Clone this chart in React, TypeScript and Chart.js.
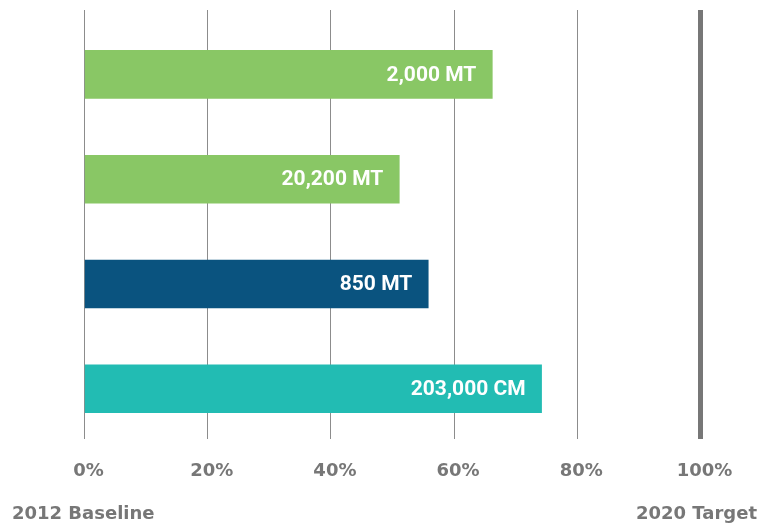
import React, { useEffect, useRef } from "react";
import { Chart, registerables } from "chart.js";

Chart.register(...registerables);

const categories = ["Row 1", "Row 2", "Row 3", "Row 4"];
const percentValues = [66.2, 51.1, 55.8, 74.2];
const barLabels = ["2,000 MT", "20,200 MT", "850 MT", "203,000 CM"];
const barColors = ["#89C765", "#89C765", "#0A537F", "#22BCB3"];
const tickValues = [0, 20, 40, 60, 80, 100];
const startLabel = "2012 Baseline";
const endLabel = "2020 Target";

const barLabelPlugin = {
  id: "barLabelPlugin",
  afterDatasetsDraw(chart: any) {
    const ctx = chart.ctx;
    const meta = chart.getDatasetMeta(0);
    ctx.save();
    ctx.font = "bold 21px Roboto, 'Liberation Sans', sans-serif";
    ctx.fillStyle = "#ffffff";
    ctx.textAlign = "right";
    ctx.textBaseline = "middle";
    meta.data.forEach((el: any, i: number) => {
      ctx.fillText(barLabels[i], el.x - 16, el.y + 1);
    });
    ctx.restore();
  },
};

const endLabelsPlugin = {
  id: "endLabelsPlugin",
  afterDraw(chart: any) {
    const ctx = chart.ctx;
    ctx.save();
    ctx.font = "bold 18px 'DejaVu Sans', sans-serif";
    ctx.fillStyle = "#777777";
    ctx.textBaseline = "alphabetic";
    ctx.textAlign = "left";
    ctx.fillText(startLabel, 12, 519);
    ctx.textAlign = "right";
    ctx.fillText(endLabel, 757, 519);
    ctx.restore();
  },
};

export default function App() {
  const canvasRef = useRef<HTMLCanvasElement | null>(null);

  useEffect(() => {
    if (!canvasRef.current) return;
    const chart = new Chart(canvasRef.current, {
      type: "bar",
      data: {
        labels: categories,
        datasets: [
          {
            data: percentValues.map((v, i) => ({ x: v, y: i })),
            backgroundColor: barColors,
            borderWidth: 0,
            barThickness: 48,
          },
        ],
      },
      options: {
        indexAxis: "y",
        animation: false,
        responsive: true,
        maintainAspectRatio: false,
        layout: {
          padding: { left: 84.5, right: 57.5, top: 10, bottom: 21 },
        },
        plugins: {
          legend: { display: false },
          tooltip: { enabled: false },
        },
        scales: {
          x: {
            type: "linear",
            min: 0,
            max: 100,
            afterBuildTicks: (axis: any) => {
              axis.ticks = tickValues.map((v) => ({ value: v }));
            },
            border: { display: false },
            grid: {
              drawTicks: false,
              color: (c: any) => (c.tick && c.tick.value === 100 ? "#777777" : "#8c8c8c"),
              lineWidth: (c: any) => (c.tick && c.tick.value === 100 ? 5 : 1),
            },
            ticks: {
              padding: 21,
              labelOffset: 4,
              color: "#777777",
              font: { family: "'DejaVu Sans', sans-serif", size: 18, weight: "bold" },
              callback: (v: any) => v + "%",
            },
          },
          y: {
            type: "linear",
            display: false,
            reverse: true,
            offset: false,
            min: -0.615,
            max: 3.483,
          },
        },
      },
      plugins: [barLabelPlugin, endLabelsPlugin],
    } as any);
    return () => chart.destroy();
  }, []);

  return (
    <div style={{ position: "fixed", left: 0, top: 0, width: 758, height: 524 }}>
      <canvas ref={canvasRef} />
    </div>
  );
}
